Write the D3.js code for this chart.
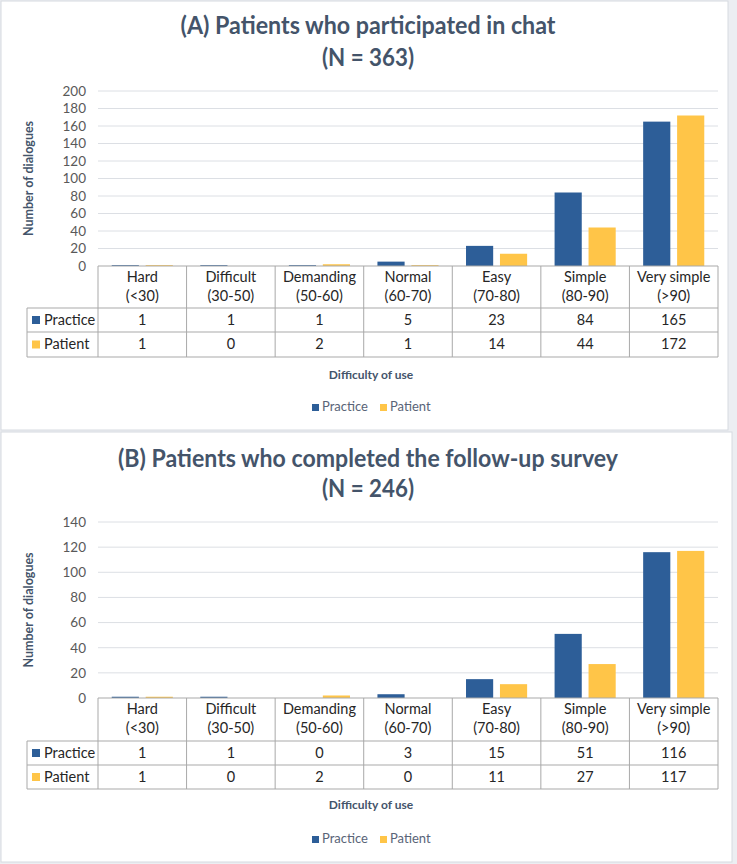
<!DOCTYPE html>
<html>
<head>
<meta charset="utf-8">
<script src="https://cdn.jsdelivr.net/npm/d3@7"></script>
<style>
  body { margin: 0; background: #eceef2; }
  svg { display: block; font-family: Lato, "Open Sans", sans-serif; }
</style>
</head>
<body>
<div id="chart"></div>
<script>
/* DATA */
const catLine1 = ["Hard", "Difficult", "Demanding", "Normal", "Easy", "Simple", "Very simple"];
const catLine2 = ["(<30)", "(30-50)", "(50-60)", "(60-70)", "(70-80)", "(80-90)", "(>90)"];
const seriesNames = ["Practice", "Patient"];
const practiceA = [1, 1, 1, 5, 23, 84, 165];
const patientA = [1, 0, 2, 1, 14, 44, 172];
const practiceB = [1, 1, 0, 3, 15, 51, 116];
const patientB = [1, 0, 2, 0, 11, 27, 117];
const ticksA = [0, 20, 40, 60, 80, 100, 120, 140, 160, 180, 200];
const ticksB = [0, 20, 40, 60, 80, 100, 120, 140];

const colors = { Practice: "#2d5e98", Patient: "#ffc548" };
const titleColor = "#44546a";

const width = 737, height = 864;

const svg = d3.select("#chart").append("svg")
  .attr("width", width)
  .attr("height", height);

// one panel = title, bars, data table, axis title, legend
function drawPanel(p) {
  const g = svg.append("g");

  g.append("rect")
    .attr("x", p.box[0]).attr("y", p.box[1])
    .attr("width", p.box[2]).attr("height", p.box[3])
    .attr("fill", "#fff")
    .attr("stroke", "#d6dae0");

  // titles
  p.titles.forEach((t, i) => {
    g.append("text")
      .attr("x", 368).attr("y", p.titleY[i])
      .attr("text-anchor", "middle")
      .attr("dominant-baseline", "middle")
      .attr("font-size", 24).attr("font-weight", 700)
      .attr("fill", titleColor)
      .attr("textLength", p.titleW[i])
      .attr("lengthAdjust", "spacingAndGlyphs")
      .text(t);
  });

  const x0 = d3.scaleBand().domain(catLine1).range([98, 718]).padding(0);
  const x1 = d3.scaleBand().domain(seriesNames)
    .range([x0.bandwidth() * 0.155, x0.bandwidth() * 0.845])
    .paddingInner(0.2);
  const y = d3.scaleLinear().domain([0, p.max]).range([p.base, p.top]);

  // gridlines
  g.append("g").selectAll("line")
    .data(p.ticks.filter(d => d > 0))
    .join("line")
    .attr("x1", 98).attr("x2", 718)
    .attr("y1", d => y(d)).attr("y2", d => y(d))
    .attr("stroke", "#dcdfe4").attr("stroke-width", 1);

  // y axis labels
  const yAxis = g.append("g")
    .attr("transform", `translate(91,0)`)
    .call(d3.axisLeft(y).tickValues(p.ticks).tickSize(0).tickPadding(5));
  yAxis.select(".domain").remove();
  yAxis.selectAll("text")
    .attr("font-family", "Lato, sans-serif")
    .attr("font-size", 13.5).attr("fill", "#595959");

  g.append("text")
    .attr("transform", `translate(30,${(p.top + p.base) / 2}) rotate(-90)`)
    .attr("text-anchor", "middle")
    .attr("dominant-baseline", "middle")
    .attr("font-size", 12.5).attr("font-weight", 700)
    .attr("fill", titleColor)
    .text("Number of dialogues");

  // bars
  const rows = catLine1.map((c, i) => ({ cat: c, Practice: p.practice[i], Patient: p.patient[i] }));
  g.append("g").selectAll("g")
    .data(rows)
    .join("g")
    .attr("transform", d => `translate(${x0(d.cat)},0)`)
    .selectAll("rect")
    .data(d => seriesNames.map(s => ({ s, v: d[s] })))
    .join("rect")
    .attr("x", d => x1(d.s))
    .attr("width", x1.bandwidth())
    .attr("y", d => y(d.v))
    .attr("height", d => y(0) - y(d.v))
    .attr("fill", d => colors[d.s]);

  // data table
  const border = "#a9a9a9";
  const tb = g.append("g");
  const [hTop, hBot, r1Bot, r2Bot] = p.rowsY;

  // horizontal lines
  tb.append("line").attr("x1", 98).attr("x2", 718).attr("y1", hTop).attr("y2", hTop).attr("stroke", border);
  [hBot, r1Bot, r2Bot].forEach(yy => {
    tb.append("line").attr("x1", 27).attr("x2", 718).attr("y1", yy).attr("y2", yy).attr("stroke", border);
  });
  // vertical lines
  tb.append("line").attr("x1", 27).attr("x2", 27).attr("y1", hBot).attr("y2", r2Bot).attr("stroke", border);
  catLine1.forEach(c => {
    tb.append("line").attr("x1", x0(c)).attr("x2", x0(c)).attr("y1", hTop).attr("y2", r2Bot).attr("stroke", border);
  });
  tb.append("line").attr("x1", 718).attr("x2", 718).attr("y1", hTop).attr("y2", r2Bot).attr("stroke", border);

  // header text
  catLine1.forEach((c, i) => {
    const cx = x0(c) + x0.bandwidth() / 2;
    tb.append("text").attr("x", cx).attr("y", hTop + (hBot - hTop) * 0.29)
      .attr("text-anchor", "middle").attr("dominant-baseline", "middle")
      .attr("font-size", 14.5).attr("fill", "#262626").text(c);
    tb.append("text").attr("x", cx).attr("y", hTop + (hBot - hTop) * 0.74)
      .attr("text-anchor", "middle").attr("dominant-baseline", "middle")
      .attr("font-size", 14.5).attr("fill", "#262626").text(catLine2[i]);
  });

  // value rows
  const rowMid = [(hBot + r1Bot) / 2, (r1Bot + r2Bot) / 2];
  seriesNames.forEach((s, si) => {
    tb.append("rect").attr("x", 32).attr("y", rowMid[si] - 4)
      .attr("width", 8).attr("height", 8).attr("fill", colors[s]);
    tb.append("text").attr("x", 44).attr("y", rowMid[si] + 1)
      .attr("dominant-baseline", "middle")
      .attr("font-size", 14.5).attr("fill", "#262626").text(s);
    const vals = si === 0 ? p.practice : p.patient;
    catLine1.forEach((c, i) => {
      tb.append("text").attr("x", x0(c) + x0.bandwidth() / 2).attr("y", rowMid[si] + 1)
        .attr("text-anchor", "middle").attr("dominant-baseline", "middle")
        .attr("font-size", 14.5).attr("fill", "#262626").text(vals[i]);
    });
  });

  // axis title
  g.append("text")
    .attr("x", 371).attr("y", p.axisTitleY)
    .attr("text-anchor", "middle").attr("dominant-baseline", "middle")
    .attr("font-size", 12).attr("font-weight", 700)
    .attr("fill", titleColor)
    .text("Difficulty of use");

  // legend
  const legX = [312, 380];
  seriesNames.forEach((s, i) => {
    g.append("rect").attr("x", legX[i]).attr("y", p.legendY - 4)
      .attr("width", 7).attr("height", 7).attr("fill", colors[s]);
    g.append("text").attr("x", legX[i] + 10).attr("y", p.legendY)
      .attr("dominant-baseline", "middle")
      .attr("font-size", 13).attr("fill", "#596478").text(s);
  });
}

drawPanel({
  box: [1, 1, 727, 429],
  titles: ["(A) Patients who participated in chat", "(N = 363)"],
  titleY: [28, 60],
  titleW: [375, 92],
  max: 200, ticks: ticksA,
  top: 91, base: 266,
  practice: practiceA, patient: patientA,
  rowsY: [266, 308, 332, 357],
  axisTitleY: 376,
  legendY: 408
});

drawPanel({
  box: [1, 432, 731, 430],
  titles: ["(B) Patients who completed the follow-up survey", "(N = 246)"],
  titleY: [461, 491],
  titleW: [500, 92],
  max: 140, ticks: ticksB,
  top: 522, base: 698,
  practice: practiceB, patient: patientB,
  rowsY: [698, 741, 765, 789],
  axisTitleY: 806,
  legendY: 840
});
</script>
</body>
</html>
